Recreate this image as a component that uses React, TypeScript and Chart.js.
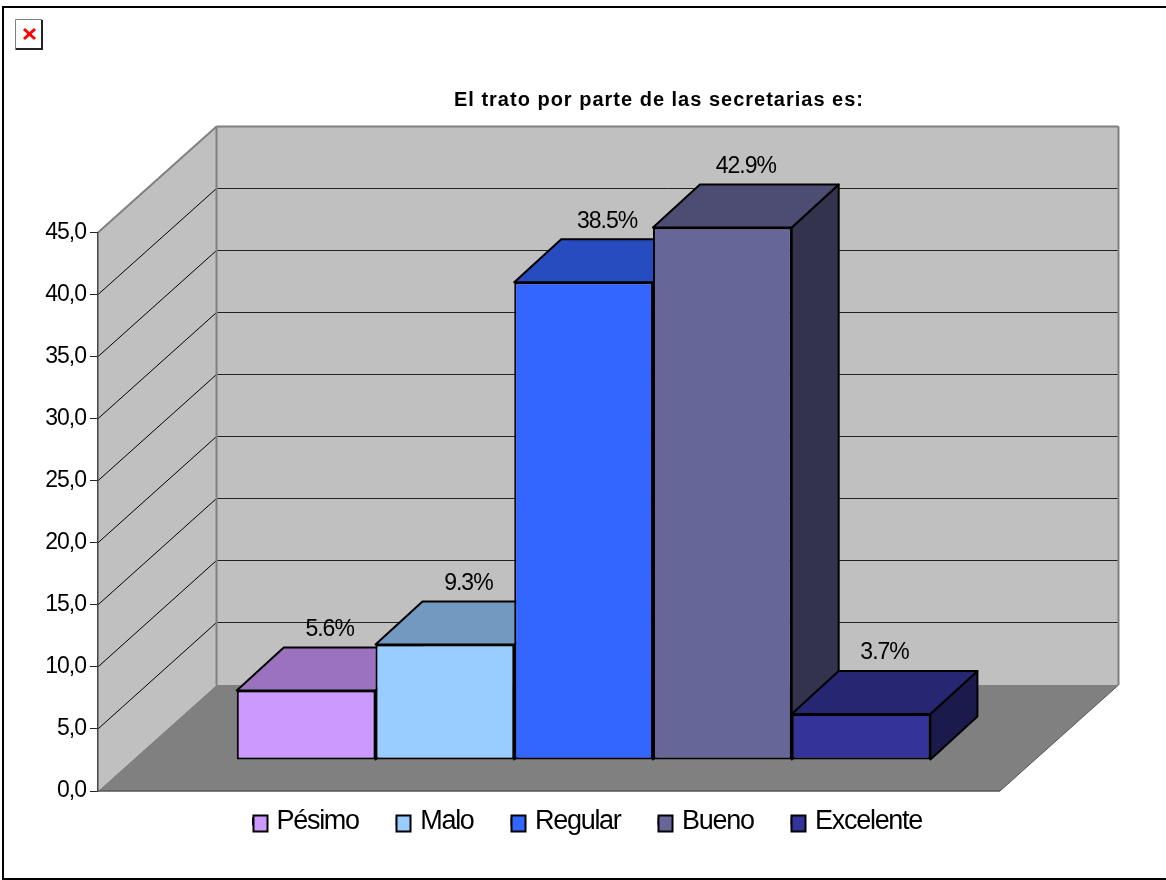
import React, { useEffect, useRef } from "react";
import { Chart, registerables } from "chart.js";

Chart.register(...registerables);

const seriesNames = ["Pésimo", "Malo", "Regular", "Bueno", "Excelente"];
const seriesValues = [5.6, 9.3, 38.5, 42.9, 3.7];
const categories = [""];
const frontColors = ["#CC99FF", "#99CCFF", "#3366FF", "#666699", "#333399"];
const topColors = ["#9B72BE", "#7299BF", "#264CBF", "#4D4D73", "#262673"];
const sideColors = ["#664D80", "#4D6680", "#1A3380", "#33334D", "#1A1A4D"];
const titleText = "El trato por parte de las secretarias es:";

const FONT = "'Liberation Sans', Arial, sans-serif";
const WALL = { dx: 118.5, dy: -106 };
const BAR_SHIFT = { dx: 34.6, dy: -31 };
const BAR_DEPTH = { dx: 47, dy: -43 };

function poly(ctx: any, pts: number[][], fill?: string, stroke?: string, lw = 1) {
  ctx.beginPath();
  pts.forEach((p, i) => (i ? ctx.lineTo(p[0], p[1]) : ctx.moveTo(p[0], p[1])));
  ctx.closePath();
  if (fill) {
    ctx.fillStyle = fill;
    ctx.fill();
  }
  if (stroke) {
    ctx.strokeStyle = stroke;
    ctx.lineWidth = lw;
    ctx.lineJoin = "round";
    ctx.stroke();
  }
}

function line(ctx: any, x1: number, y1: number, x2: number, y2: number, color: string, lw = 1) {
  ctx.beginPath();
  ctx.moveTo(x1, y1);
  ctx.lineTo(x2, y2);
  ctx.strokeStyle = color;
  ctx.lineWidth = lw;
  ctx.stroke();
}

function wrapBox(chart: any, box: any, dx: number, dy: number, spacing: string) {
  if (!box || box.__wrapped) return;
  const orig = box.draw.bind(box);
  box.draw = (...args: any[]) => {
    const c = chart.ctx;
    c.save();
    c.translate(dx, dy);
    c.letterSpacing = spacing;
    orig(...args);
    c.restore();
  };
  box.__wrapped = true;
}

const LEGEND_DX = 87.5;
const LEGEND_DY = -21;
const LEGEND_SPACING = "-1.3px";

const scene3d = {
  id: "scene3d",
  beforeUpdate(chart: any) {
    chart.ctx.letterSpacing = LEGEND_SPACING;
  },
  afterLayout(chart: any) {
    wrapBox(chart, chart.titleBlock, 159, 0, "1px");
    wrapBox(chart, chart.legend, LEGEND_DX, LEGEND_DY, LEGEND_SPACING);
  },
  beforeDraw(chart: any) {
    const { ctx, chartArea: a, scales } = chart;
    const y = scales.y;
    const { left: l, right: r, top: t, bottom: b } = a;
    const { dx, dy } = WALL;
    ctx.letterSpacing = "-1px";
    ctx.save();
    ctx.fillStyle = "#fff";
    ctx.fillRect(0, 0, chart.width, chart.height);
    // page frame
    line(ctx, 3, 7, 3, 879, "#000", 2);
    line(ctx, 2, 7, 1166, 7, "#000", 2);
    line(ctx, 2, 879, 1166, 879, "#000", 2);
    // broken image icon
    ctx.fillStyle = "#fff";
    ctx.fillRect(15, 19, 28, 31);
    line(ctx, 15.5, 19.5, 42, 19.5, "#808080", 1);
    line(ctx, 15.5, 19.5, 15.5, 50, "#808080", 1);
    line(ctx, 16, 49, 43, 49, "#222", 2);
    line(ctx, 42, 20, 42, 50, "#222", 2);
    line(ctx, 24, 29, 35, 39, "#f00", 3);
    line(ctx, 35, 29, 24, 39, "#f00", 3);
    // walls and floor
    poly(ctx, [[l, t], [l + dx, t + dy], [l + dx, b + dy], [l, b]], "#C0C0C0");
    poly(ctx, [[l + dx, t + dy], [r + dx, t + dy], [r + dx, b + dy], [l + dx, b + dy]], "#C0C0C0");
    poly(ctx, [[l, b], [r, b], [r + dx, b + dy], [l + dx, b + dy]], "#808080");
    // gridlines
    y.ticks.forEach((tk: any) => {
      if (tk.value <= 0 || tk.value >= y.max) return;
      const py = y.getPixelForValue(tk.value);
      const backY = Math.floor(py + dy) + 0.5;
      line(ctx, l, py, l + dx, backY, "#000", 1);
      line(ctx, l + dx, backY, r + dx, backY, "#222", 1);
    });
    // wall edges
    line(ctx, l, t, l + dx, t + dy, "#808080", 2);
    line(ctx, l + dx, t + dy, r + dx, t + dy, "#808080", 2);
    line(ctx, l + dx, t + dy, l + dx, b + dy, "#808080", 2);
    line(ctx, r + dx, t + dy, r + dx, b + dy, "#808080", 2);
    line(ctx, l, b, r, b, "#555", 1.5);
    line(ctx, r, b, r + dx, b + dy, "#555", 1);
    ctx.restore();
  },
  beforeDatasetsDraw(chart: any) {
    const { ctx } = chart;
    const { dx, dy } = BAR_DEPTH;
    ctx.save();
    seriesValues.forEach((_v, i) => {
      const el = chart.getDatasetMeta(i).data[0];
      const p = el.getProps(["x", "y", "base", "width"], true);
      const x0 = p.x - p.width / 2 + BAR_SHIFT.dx;
      const x1 = p.x + p.width / 2 + BAR_SHIFT.dx;
      const yT = p.y + BAR_SHIFT.dy;
      const yB = p.base + BAR_SHIFT.dy;
      poly(ctx, [[x1, yT], [x1 + dx, yT + dy], [x1 + dx, yB + dy], [x1, yB]], sideColors[i], "#000", 2);
      poly(ctx, [[x0, yT], [x0 + dx, yT + dy], [x1 + dx, yT + dy], [x1, yT]], topColors[i], "#000", 2);
    });
    ctx.restore();
  },
  beforeDatasetDraw(chart: any) {
    chart.ctx.save();
    chart.ctx.translate(BAR_SHIFT.dx, BAR_SHIFT.dy);
  },
  afterDatasetDraw(chart: any) {
    chart.ctx.restore();
  },
  afterDatasetsDraw(chart: any) {
    const { ctx } = chart;
    ctx.save();
    ctx.font = `23px ${FONT}`;
    ctx.fillStyle = "#000";
    ctx.textAlign = "center";
    ctx.textBaseline = "middle";
    seriesValues.forEach((v, i) => {
      const p = chart.getDatasetMeta(i).data[0].getProps(["x", "y"], true);
      const x = p.x + BAR_SHIFT.dx + BAR_DEPTH.dx / 2;
      const yy = p.y + BAR_SHIFT.dy + BAR_DEPTH.dy - 18;
      ctx.fillText(`${v.toFixed(1)}%`, x, yy);
    });
    ctx.restore();
  },
  afterDraw(chart: any) {
    const { ctx, legend } = chart;
    ctx.save();
    legend.legendHitBoxes.forEach((h: any, i: number) => {
      const x = Math.floor(h.left + LEGEND_DX);
      const yy = Math.round(h.top + LEGEND_DY + h.height / 2 - 7);
      ctx.fillStyle = frontColors[i];
      ctx.strokeStyle = "#000";
      ctx.lineWidth = 2;
      ctx.fillRect(x, yy, 15, 17);
      ctx.strokeRect(x + 0.5, yy + 0.5, 14, 16);
    });
    ctx.restore();
  },
};

export default function App() {
  const ref = useRef<HTMLCanvasElement>(null);
  useEffect(() => {
    const chart = new Chart(ref.current as HTMLCanvasElement, {
      type: "bar",
      data: {
        labels: categories,
        datasets: seriesNames.map((name, i) => ({
          label: name,
          data: [seriesValues[i]],
          backgroundColor: frontColors[i],
          borderColor: "#000",
          borderWidth: 2,
          borderSkipped: false,
          clip: false,
          categoryPercentage: 0.769,
          barPercentage: 1,
        })),
      } as any,
      options: {
        responsive: false,
        animation: false,
        layout: { padding: { left: 0, right: 166, top: 0, bottom: 14 } },
        scales: {
          x: { display: false, grid: { display: false } },
          y: {
            min: 0,
            max: 45,
            afterFit: (s: any) => {
              s.width = 98;
            },
            border: { display: true, color: "#444", width: 1.5 },
            grid: { drawOnChartArea: false, drawTicks: true, tickLength: 8, color: "#222" },
            ticks: {
              stepSize: 5,
              padding: 4,
              color: "#000",
              font: { family: FONT, size: 23 },
              callback: (v: any) => Number(v).toFixed(1).replace(".", ","),
            },
          },
        },
        plugins: {
          tooltip: { enabled: false },
          title: {
            display: true,
            text: titleText,
            color: "#000",
            font: { family: FONT, size: 20, weight: "bold" },
            padding: { top: 88, bottom: 120.5 },
          },
          legend: {
            position: "bottom",
            labels: {
              boxWidth: 10,
              boxHeight: 6,
              padding: 38,
              color: "#000",
              font: { family: FONT, size: 27 },
            },
          },
        },
      } as any,
      plugins: [scene3d],
    });
    return () => chart.destroy();
  }, []);
  return (
    <div style={{ position: "absolute", left: 0, top: 0 }}>
      <canvas ref={ref} width={1166} height={880} style={{ display: "block" }} />
    </div>
  );
}
